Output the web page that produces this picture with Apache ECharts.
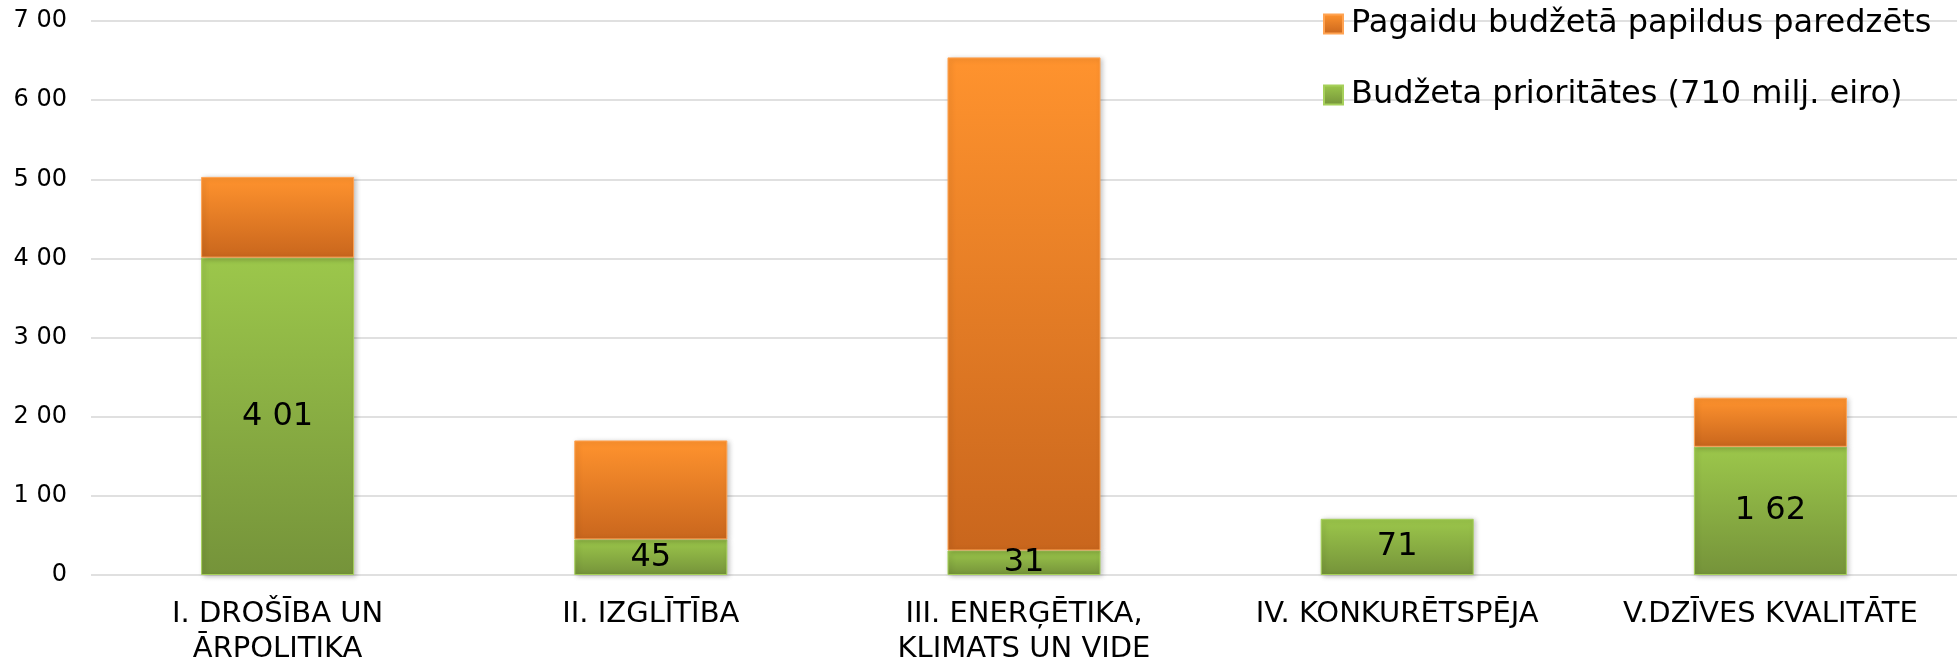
<!DOCTYPE html>
<html>
<head>
<meta charset="utf-8">
<script src="https://cdn.jsdelivr.net/npm/echarts@6/dist/echarts.min.js"></script>
<style>
  html, body { margin: 0; padding: 0; background: #fff; }
  #chart { width: 1957px; height: 662px; }
</style>
</head>
<body>
<div id="chart"></div>
<script>
const categories = [
  'I. DROŠĪBA UN\nĀRPOLITIKA',
  'II. IZGLĪTĪBA',
  'III. ENERĢĒTIKA,\nKLIMATS UN VIDE',
  'IV. KONKURĒTSPĒJA',
  'V.DZĪVES KVALITĀTE'
];
const priorityName = 'Budžeta prioritātes (710 milj. eiro)';
const extraName = 'Pagaidu budžetā papildus paredzēts';
const priorityValues = [401, 45, 31, 71, 162];
const extraValues = [102, 125, 623, 0, 62];

function fmt(v) {
  const s = String(Math.round(v));
  if (s.length <= 2) return s;
  return s.slice(0, s.length - 2) + ' ' + s.slice(-2);
}

const FONT = 'DejaVu Sans';
const chart = echarts.init(document.getElementById('chart'));

const greenGrad = new echarts.graphic.LinearGradient(0, 0, 0, 1, [
  { offset: 0, color: '#9CC74B' },
  { offset: 1, color: '#75933A' }
]);
const orangeGrad = new echarts.graphic.LinearGradient(0, 0, 0, 1, [
  { offset: 0, color: '#FF932E' },
  { offset: 1, color: '#C9661D' }
]);

chart.setOption({
  animation: false,
  backgroundColor: '#fff',
  grid: { left: 91, right: 0, top: 21, bottom: 87, containLabel: false, outerBoundsMode: 'none' },
  legend: {
    orient: 'vertical',
    left: 1318,
    top: 2,
    padding: 5,
    itemWidth: 19,
    itemHeight: 19,
    itemGap: 37,
    data: [
      { name: extraName, icon: 'rect', itemStyle: { color: orangeGrad } },
      { name: priorityName, icon: 'rect', itemStyle: { color: greenGrad } }
    ],
    textStyle: { fontFamily: FONT, fontSize: 32, color: '#000', lineHeight: 34, padding: [0, 0, 0, 3] }
  },
  xAxis: {
    type: 'category',
    data: categories,
    axisLine: { show: false },
    axisTick: { show: false },
    axisLabel: {
      fontFamily: FONT, fontSize: 29, color: '#000', lineHeight: 35, margin: 22, interval: 0
    }
  },
  yAxis: {
    type: 'value',
    min: 0,
    max: 700,
    interval: 100,
    axisLine: { show: false },
    axisTick: { show: false },
    splitLine: { lineStyle: { color: '#D6D6D6', width: 1.6 } },
    axisLabel: {
      fontFamily: FONT, fontSize: 24, color: '#000', margin: 24, align: 'right',
      formatter: v => fmt(v)
    }
  },
  series: [
    {
      name: priorityName,
      type: 'bar',
      stack: 'total',
      barWidth: '41%',
      data: priorityValues,
      itemStyle: {
        color: greenGrad,
        borderColor: '#A6D05A',
        borderWidth: 1,
        shadowBlur: 5,
        shadowColor: 'rgba(0,0,0,0.25)',
        shadowOffsetX: 2,
        shadowOffsetY: 1
      },
      label: {
        show: true,
        position: 'inside',
        fontFamily: FONT,
        fontSize: 32,
        color: '#000',
        formatter: p => fmt(p.value)
      }
    },
    {
      name: extraName,
      type: 'bar',
      stack: 'total',
      barWidth: '41%',
      data: extraValues.map(v => (v === 0 ? '-' : v)),
      itemStyle: {
        color: orangeGrad,
        borderColor: '#FFA352',
        borderWidth: 1,
        shadowBlur: 5,
        shadowColor: 'rgba(0,0,0,0.25)',
        shadowOffsetX: 2,
        shadowOffsetY: 1
      }
    }
  ]
});
</script>
</body>
</html>
